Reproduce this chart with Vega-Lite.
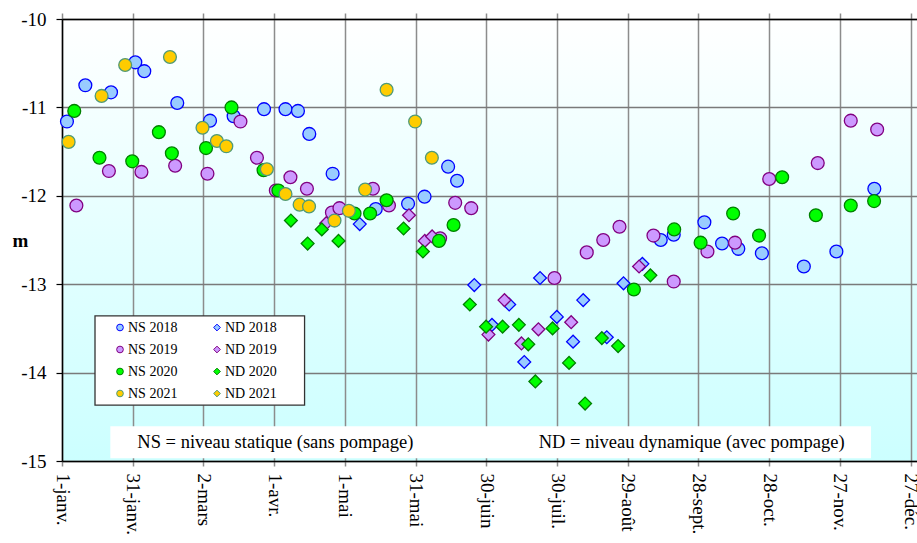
{
  "$schema": "https://vega.github.io/schema/vega-lite/v6.json",
  "width": 855,
  "height": 442,
  "autosize": {"type": "none"},
  "padding": {"left": 62, "top": 19, "right": 0, "bottom": 82},
  "background": "#ffffff",
  "config": {
    "font": "Liberation Serif",
    "view": {
      "fill": {"gradient": "linear", "x1": 0, "y1": 0, "x2": 0, "y2": 1,
        "stops": [{"offset": 0, "color": "#ffffff"}, {"offset": 0.5, "color": "#e4ffff"}, {"offset": 1, "color": "#ccffff"}]},
      "stroke": null
    }
  },
  "datasets": {
    "mesures": [
      {"serie": "NS 2018", "jour": 2.1, "niveau": -11.16},
      {"serie": "NS 2018", "jour": 9.9, "niveau": -10.75},
      {"serie": "NS 2018", "jour": 20.8, "niveau": -10.83},
      {"serie": "NS 2018", "jour": 31.1, "niveau": -10.49},
      {"serie": "NS 2018", "jour": 34.9, "niveau": -10.59},
      {"serie": "NS 2018", "jour": 48.9, "niveau": -10.95},
      {"serie": "NS 2018", "jour": 62.8, "niveau": -11.15},
      {"serie": "NS 2018", "jour": 72.8, "niveau": -11.10},
      {"serie": "NS 2018", "jour": 85.7, "niveau": -11.02},
      {"serie": "NS 2018", "jour": 94.8, "niveau": -11.02},
      {"serie": "NS 2018", "jour": 100.1, "niveau": -11.04},
      {"serie": "NS 2018", "jour": 104.9, "niveau": -11.30},
      {"serie": "NS 2018", "jour": 114.8, "niveau": -11.75},
      {"serie": "NS 2018", "jour": 133.1, "niveau": -12.15},
      {"serie": "NS 2018", "jour": 146.8, "niveau": -12.09},
      {"serie": "NS 2018", "jour": 153.8, "niveau": -12.01},
      {"serie": "NS 2018", "jour": 163.8, "niveau": -11.67},
      {"serie": "NS 2018", "jour": 167.6, "niveau": -11.83},
      {"serie": "NS 2018", "jour": 254.0, "niveau": -12.50},
      {"serie": "NS 2018", "jour": 259.5, "niveau": -12.44},
      {"serie": "NS 2018", "jour": 272.5, "niveau": -12.30},
      {"serie": "NS 2018", "jour": 280.0, "niveau": -12.54},
      {"serie": "NS 2018", "jour": 286.9, "niveau": -12.60},
      {"serie": "NS 2018", "jour": 296.9, "niveau": -12.65},
      {"serie": "NS 2018", "jour": 314.7, "niveau": -12.80},
      {"serie": "NS 2018", "jour": 328.5, "niveau": -12.63},
      {"serie": "NS 2018", "jour": 344.6, "niveau": -11.92},
      {"serie": "ND 2018", "jour": 126.3, "niveau": -12.32},
      {"serie": "ND 2018", "jour": 174.9, "niveau": -13.01},
      {"serie": "ND 2018", "jour": 182.4, "niveau": -13.46},
      {"serie": "ND 2018", "jour": 189.7, "niveau": -13.23},
      {"serie": "ND 2018", "jour": 196.1, "niveau": -13.88},
      {"serie": "ND 2018", "jour": 202.8, "niveau": -12.93},
      {"serie": "ND 2018", "jour": 209.9, "niveau": -13.37},
      {"serie": "ND 2018", "jour": 216.8, "niveau": -13.65},
      {"serie": "ND 2018", "jour": 221.1, "niveau": -13.18},
      {"serie": "ND 2018", "jour": 231.1, "niveau": -13.60},
      {"serie": "ND 2018", "jour": 238.2, "niveau": -12.99},
      {"serie": "ND 2018", "jour": 246.2, "niveau": -12.77},
      {"serie": "NS 2019", "jour": 6.1, "niveau": -12.11},
      {"serie": "NS 2019", "jour": 19.9, "niveau": -11.72},
      {"serie": "NS 2019", "jour": 33.7, "niveau": -11.73},
      {"serie": "NS 2019", "jour": 48.0, "niveau": -11.66},
      {"serie": "NS 2019", "jour": 61.7, "niveau": -11.75},
      {"serie": "NS 2019", "jour": 75.7, "niveau": -11.16},
      {"serie": "NS 2019", "jour": 82.7, "niveau": -11.57},
      {"serie": "NS 2019", "jour": 90.7, "niveau": -11.94},
      {"serie": "NS 2019", "jour": 96.9, "niveau": -11.79},
      {"serie": "NS 2019", "jour": 103.9, "niveau": -11.92},
      {"serie": "NS 2019", "jour": 114.5, "niveau": -12.19},
      {"serie": "NS 2019", "jour": 117.7, "niveau": -12.14},
      {"serie": "NS 2019", "jour": 131.9, "niveau": -11.92},
      {"serie": "NS 2019", "jour": 138.7, "niveau": -12.11},
      {"serie": "NS 2019", "jour": 160.4, "niveau": -12.48},
      {"serie": "NS 2019", "jour": 166.8, "niveau": -12.08},
      {"serie": "NS 2019", "jour": 173.6, "niveau": -12.14},
      {"serie": "NS 2019", "jour": 208.9, "niveau": -12.93},
      {"serie": "NS 2019", "jour": 222.6, "niveau": -12.64},
      {"serie": "NS 2019", "jour": 229.6, "niveau": -12.50},
      {"serie": "NS 2019", "jour": 236.5, "niveau": -12.35},
      {"serie": "NS 2019", "jour": 250.9, "niveau": -12.45},
      {"serie": "NS 2019", "jour": 259.5, "niveau": -12.97},
      {"serie": "NS 2019", "jour": 273.8, "niveau": -12.63},
      {"serie": "NS 2019", "jour": 285.5, "niveau": -12.53},
      {"serie": "NS 2019", "jour": 300.0, "niveau": -11.81},
      {"serie": "NS 2019", "jour": 320.6, "niveau": -11.63},
      {"serie": "NS 2019", "jour": 334.6, "niveau": -11.15},
      {"serie": "NS 2019", "jour": 345.8, "niveau": -11.25},
      {"serie": "ND 2019", "jour": 112.1, "niveau": -12.31},
      {"serie": "ND 2019", "jour": 147.2, "niveau": -12.22},
      {"serie": "ND 2019", "jour": 153.9, "niveau": -12.51},
      {"serie": "ND 2019", "jour": 157.0, "niveau": -12.46},
      {"serie": "ND 2019", "jour": 180.9, "niveau": -13.57},
      {"serie": "ND 2019", "jour": 187.7, "niveau": -13.18},
      {"serie": "ND 2019", "jour": 194.9, "niveau": -13.67},
      {"serie": "ND 2019", "jour": 202.1, "niveau": -13.51},
      {"serie": "ND 2019", "jour": 216.0, "niveau": -13.43},
      {"serie": "ND 2019", "jour": 244.8, "niveau": -12.80},
      {"serie": "NS 2020", "jour": 5.2, "niveau": -11.04},
      {"serie": "NS 2020", "jour": 15.9, "niveau": -11.57},
      {"serie": "NS 2020", "jour": 29.8, "niveau": -11.61},
      {"serie": "NS 2020", "jour": 41.1, "niveau": -11.28},
      {"serie": "NS 2020", "jour": 46.6, "niveau": -11.52},
      {"serie": "NS 2020", "jour": 61.1, "niveau": -11.46},
      {"serie": "NS 2020", "jour": 71.9, "niveau": -11.00},
      {"serie": "NS 2020", "jour": 85.5, "niveau": -11.71},
      {"serie": "NS 2020", "jour": 91.8, "niveau": -11.94},
      {"serie": "NS 2020", "jour": 124.1, "niveau": -12.20},
      {"serie": "NS 2020", "jour": 130.7, "niveau": -12.20},
      {"serie": "NS 2020", "jour": 137.7, "niveau": -12.05},
      {"serie": "NS 2020", "jour": 159.9, "niveau": -12.51},
      {"serie": "NS 2020", "jour": 166.1, "niveau": -12.33},
      {"serie": "NS 2020", "jour": 242.6, "niveau": -13.06},
      {"serie": "NS 2020", "jour": 259.7, "niveau": -12.38},
      {"serie": "NS 2020", "jour": 270.9, "niveau": -12.53},
      {"serie": "NS 2020", "jour": 284.7, "niveau": -12.20},
      {"serie": "NS 2020", "jour": 295.7, "niveau": -12.45},
      {"serie": "NS 2020", "jour": 305.5, "niveau": -11.79},
      {"serie": "NS 2020", "jour": 319.8, "niveau": -12.22},
      {"serie": "NS 2020", "jour": 334.6, "niveau": -12.11},
      {"serie": "NS 2020", "jour": 344.5, "niveau": -12.06},
      {"serie": "ND 2020", "jour": 97.1, "niveau": -12.28},
      {"serie": "ND 2020", "jour": 104.2, "niveau": -12.54},
      {"serie": "ND 2020", "jour": 110.2, "niveau": -12.38},
      {"serie": "ND 2020", "jour": 117.3, "niveau": -12.51},
      {"serie": "ND 2020", "jour": 144.9, "niveau": -12.37},
      {"serie": "ND 2020", "jour": 153.1, "niveau": -12.63},
      {"serie": "ND 2020", "jour": 173.0, "niveau": -13.23},
      {"serie": "ND 2020", "jour": 179.9, "niveau": -13.48},
      {"serie": "ND 2020", "jour": 186.9, "niveau": -13.48},
      {"serie": "ND 2020", "jour": 193.8, "niveau": -13.46},
      {"serie": "ND 2020", "jour": 197.8, "niveau": -13.68},
      {"serie": "ND 2020", "jour": 200.8, "niveau": -14.10},
      {"serie": "ND 2020", "jour": 208.1, "niveau": -13.50},
      {"serie": "ND 2020", "jour": 215.1, "niveau": -13.89},
      {"serie": "ND 2020", "jour": 221.9, "niveau": -14.35},
      {"serie": "ND 2020", "jour": 229.0, "niveau": -13.61},
      {"serie": "ND 2020", "jour": 235.9, "niveau": -13.70},
      {"serie": "ND 2020", "jour": 249.6, "niveau": -12.90},
      {"serie": "NS 2021", "jour": 2.8, "niveau": -11.39},
      {"serie": "NS 2021", "jour": 16.8, "niveau": -10.87},
      {"serie": "NS 2021", "jour": 26.8, "niveau": -10.52},
      {"serie": "NS 2021", "jour": 45.8, "niveau": -10.43},
      {"serie": "NS 2021", "jour": 59.6, "niveau": -11.23},
      {"serie": "NS 2021", "jour": 65.7, "niveau": -11.38},
      {"serie": "NS 2021", "jour": 69.7, "niveau": -11.44},
      {"serie": "NS 2021", "jour": 86.9, "niveau": -11.70},
      {"serie": "NS 2021", "jour": 94.8, "niveau": -11.98},
      {"serie": "NS 2021", "jour": 100.8, "niveau": -12.10},
      {"serie": "NS 2021", "jour": 104.8, "niveau": -12.12},
      {"serie": "NS 2021", "jour": 115.6, "niveau": -12.28},
      {"serie": "NS 2021", "jour": 121.7, "niveau": -12.17},
      {"serie": "NS 2021", "jour": 128.6, "niveau": -11.93},
      {"serie": "NS 2021", "jour": 137.7, "niveau": -10.80},
      {"serie": "NS 2021", "jour": 149.8, "niveau": -11.16},
      {"serie": "NS 2021", "jour": 156.9, "niveau": -11.57}
    ]
  },
  "resolve": {"axis": {"x": "independent"}},
  "layer": [
    {
      "data": {"values": [{}]},
      "mark": {"type": "rect", "fill": "#ffffff", "stroke": null},
      "encoding": {
        "x": {"datum": 20.5, "type": "quantitative", "scale": {"domain": [0, 362.7], "nice": false, "zero": false},
          "axis": {"orient": "top", "values": [0, 30, 60, 90, 120, 150, 180, 210, 240, 270, 300, 330, 360], "labels": false, "title": null, "grid": false, "ticks": true, "tickSize": 6, "tickColor": "#8c8c8c", "tickWidth": 1.5, "domainColor": "#000000", "domainWidth": 1.5}},
        "x2": {"datum": 343.2},
        "y": {"datum": -14.607, "type": "quantitative", "scale": {"domain": [-15, -10], "nice": false, "zero": false},
          "axis": {"values": [-10, -11, -12, -13, -14, -15], "labelExpr": "'-' + abs(datum.value)",
            "labelFont": "Liberation Serif", "labelFontSize": 19, "labelColor": "#000000", "labelPadding": 10,
            "tickSize": 6, "tickColor": "#000000", "tickWidth": 1.2, "domainColor": "#000000", "domainWidth": 1.5,
            "grid": true, "gridColor": "#7a7a7a", "gridWidth": 1.5,
            "title": "m", "titleAngle": 0, "titleFont": "Liberation Serif", "titleFontSize": 19, "titleFontWeight": "bold", "titleColor": "#000000",
            "titleX": -42, "titleY": 221, "titleAlign": "center", "titleBaseline": "middle"}},
        "y2": {"datum": -14.969}
      }
    },
    {
      "data": {"values": [{}]},
      "mark": {"type": "rect", "fill": "#ffffff", "stroke": "#333333", "strokeWidth": 1.3},
      "encoding": {
        "x": {"datum": 14.0, "type": "quantitative", "axis": null},
        "x2": {"datum": 102.9},
        "y": {"datum": -13.359, "type": "quantitative"},
        "y2": {"datum": -14.369}
      }
    },
    {
      "data": {"values": [{}]},
      "mark": {"type": "text", "font": "Liberation Serif", "fontSize": 18.5, "color": "#000000", "align": "center", "baseline": "middle"},
      "encoding": {
        "x": {"datum": 90.5, "type": "quantitative", "axis": null},
        "y": {"datum": -14.79, "type": "quantitative"},
        "text": {"value": "NS = niveau statique (sans pompage)"}
      }
    },
    {
      "data": {"values": [{}]},
      "mark": {"type": "text", "font": "Liberation Serif", "fontSize": 18.5, "color": "#000000", "align": "center", "baseline": "middle"},
      "encoding": {
        "x": {"datum": 267.1, "type": "quantitative", "axis": null},
        "y": {"datum": -14.79, "type": "quantitative"},
        "text": {"value": "ND = niveau dynamique (avec pompage)"}
      }
    },
    {
      "data": {"name": "mesures"},
      "mark": {"type": "point", "filled": true, "size": 165, "strokeWidth": 1.3, "opacity": 1},
      "encoding": {
        "x": {"field": "jour", "type": "quantitative",
          "axis": {"orient": "bottom", "values": [0, 30, 60, 90, 120, 150, 180, 210, 240, 270, 300, 330, 360],
            "labelExpr": "['1-janv.','31-janv.','2-mars','1-avr.','1-mai','31-mai','30-juin','30-juil.','29-août','28-sept.','28-oct.','27-nov.','27-déc.'][round(datum.value/30)]",
            "labelAngle": 90, "labelAlign": "left", "labelBaseline": "middle", "labelFont": "Liberation Serif", "labelFontSize": 19, "labelColor": "#000000",
            "labelPadding": 7, "labelOverlap": false, "labelFlush": false, "labelBound": false,
            "tickSize": 5, "tickColor": "#8c8c8c", "tickWidth": 1.5, "domainColor": "#000000", "domainWidth": 1.5,
            "grid": true, "gridColor": "#8c8c8c", "gridWidth": 1.5, "title": null}},
        "y": {"field": "niveau", "type": "quantitative"},
        "fill": {"field": "serie", "type": "nominal",
          "scale": {"domain": ["NS 2018", "NS 2019", "NS 2020", "NS 2021", "ND 2018", "ND 2019", "ND 2020", "ND 2021"],
            "range": ["#99ccff", "#cc99ff", "#00ff00", "#ffcc00", "#99ccff", "#cc99ff", "#00ff00", "#ffcc00"]},
          "legend": {"orient": "none", "legendX": 51, "legendY": 301.5, "columns": 2, "title": null, "padding": 0,
            "labelFont": "Liberation Serif", "labelFontSize": 14, "labelColor": "#000000", "labelOffset": 1,
            "symbolSize": 45, "symbolStrokeWidth": 1, "rowPadding": 8, "columnPadding": 32}},
        "stroke": {"field": "serie", "type": "nominal",
          "scale": {"domain": ["NS 2018", "NS 2019", "NS 2020", "NS 2021", "ND 2018", "ND 2019", "ND 2020", "ND 2021"],
            "range": ["#0000ff", "#800080", "#008000", "#4f9a78", "#0000ff", "#800080", "#008000", "#4f9a78"]}},
        "shape": {"field": "serie", "type": "nominal",
          "scale": {"domain": ["NS 2018", "NS 2019", "NS 2020", "NS 2021", "ND 2018", "ND 2019", "ND 2020", "ND 2021"],
            "range": ["circle", "circle", "circle", "circle", "diamond", "diamond", "diamond", "diamond"]}}
      }
    }
  ]
}
